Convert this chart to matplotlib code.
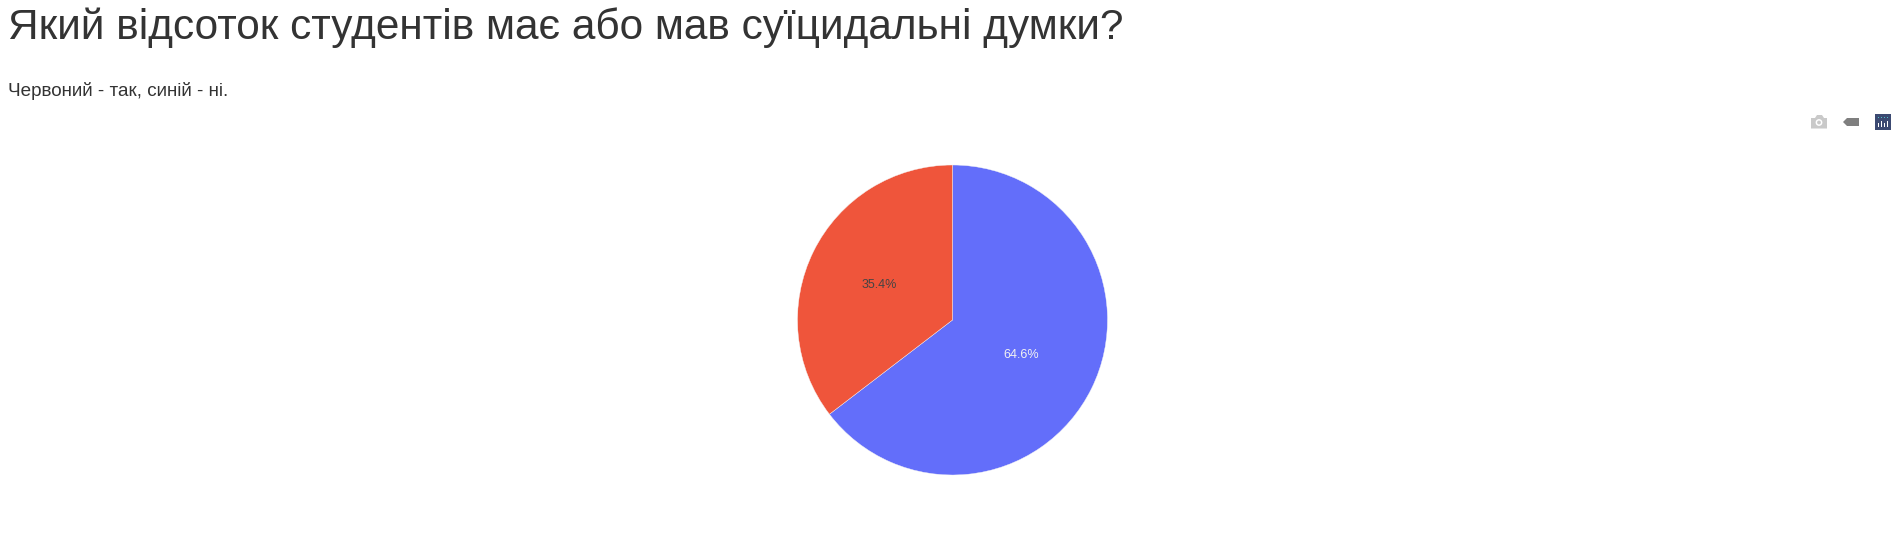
import numpy as np
import matplotlib
matplotlib.use('Agg')
import matplotlib.pyplot as plt
from matplotlib.patches import Circle, Polygon, Rectangle

plt.rcParams['font.family'] = ['Liberation Sans', 'DejaVu Sans']

labels = ['ні', 'так']
values = [64.6, 35.4]
colors = ['#636efa', '#ef553b']
text_colors = ['#f2f2f2', '#444444']
label_dist = [0.495, 0.53]

title = 'Який відсоток студентів має або мав суїцидальні думки?'
subtitle = 'Червоний - так, синій - ні.'

W, H = 1896, 543
fig = plt.figure(figsize=(W / 100, H / 100), dpi=100, facecolor='white')

# overlay in pixel coordinates, for the header and the toolbar
page = fig.add_axes([0, 0, 1, 1])
page.set_xlim(0, W)
page.set_ylim(H, 0)
page.axis('off')
page.text(8, 39.5, title, fontsize=30.55, color='#333333', va='baseline', ha='left')
page.text(8, 96, subtitle, fontsize=13.6, color='#333333', va='baseline', ha='left')

# camera icon
page.add_patch(Polygon([(1811, 128.5), (1811, 118), (1815, 118), (1817, 115), (1822, 115), (1824, 118), (1827, 118), (1827, 128.5)], fc='#c9c9c9', ec='none'))
page.add_patch(Circle((1819, 122.5), 3.4, fc='white', ec='none'))
page.add_patch(Circle((1819, 122.5), 1.9, fc='#c9c9c9', ec='none'))
# tag icon
page.add_patch(Polygon([(1843, 122), (1847, 118), (1859, 118), (1859, 126), (1847, 126)], fc='#7f7f7f', ec='none'))
# plotly logo
page.add_patch(Rectangle((1875, 114), 16, 16, fc='#3c4a72', ec='none'))
for x, top in zip([1878, 1881, 1884, 1887], [123, 121, 123, 121]):
    page.add_patch(Rectangle((x, top), 1.4, 127 - top, fc='#ffffff', ec='none'))
    page.add_patch(Rectangle((x, 117), 1.4, 1.4, fc='#55c0c8', ec='none'))

r = 155
cx, cy = 952.5, 320
ax = fig.add_axes([(cx - r) / W, 1 - (cy + r) / H, 2 * r / W, 2 * r / H])
wedges, _ = ax.pie(values, colors=colors, startangle=90, counterclock=False, radius=1,
                   wedgeprops={'edgecolor': '#f4f4f4', 'linewidth': 0.3})
ax.set_xlim(-1, 1)
ax.set_ylim(-1, 1)
for wedge, value, color, dist in zip(wedges, values, text_colors, label_dist):
    mid = np.deg2rad((wedge.theta1 + wedge.theta2) / 2)
    ax.text(dist * np.cos(mid), dist * np.sin(mid) - 0.008, f'{value}%', color=color,
            fontsize=9, ha='center', va='center')

fig.savefig('out.png', dpi=100)
